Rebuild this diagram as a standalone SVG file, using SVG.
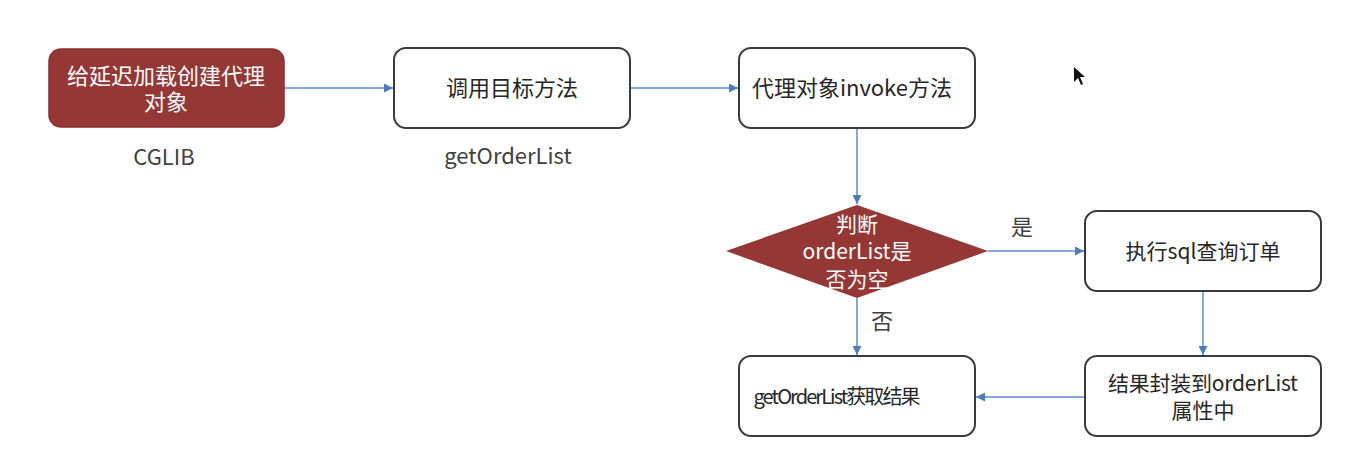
<svg xmlns="http://www.w3.org/2000/svg" width="1353" height="468" viewBox="0 0 1353 468">
<defs>
<style>
.box{fill:#ffffff;stroke:#3a3a3a;stroke-width:2}
.red{fill:#953735;stroke:#8a302e;stroke-width:1.5}
.t{font-family:"Microsoft YaHei","Noto Sans CJK SC","Noto Sans",sans-serif;font-size:21px;fill:#262626;text-anchor:middle}
.big{font-size:22px}
.w{fill:#ffffff}
.lbl{font-family:"Microsoft YaHei","Noto Sans CJK SC","Noto Sans",sans-serif;font-size:22px;fill:#404040;text-anchor:middle}
.c{stroke:#5b8bd0;stroke-width:1.5;fill:none;marker-end:url(#ah)}
</style>
<marker id="ah" viewBox="0 0 10 10" refX="10" refY="5" markerWidth="9" markerHeight="9" markerUnits="userSpaceOnUse" orient="auto">
<path d="M0,0 L10,5 L0,10 z" fill="#4a7ebb"/>
</marker>
</defs>
<rect width="1353" height="468" fill="#ffffff"/>
<g id="connectors">
<line class="c" x1="284" y1="88" x2="393" y2="88"/>
<line class="c" x1="630" y1="88" x2="738" y2="88"/>
<line class="c" x1="857" y1="128" x2="857" y2="204"/>
<line class="c" x1="988" y1="251" x2="1084" y2="251"/>
<line class="c" x1="857" y1="298" x2="857" y2="355"/>
<line class="c" x1="1203" y1="291" x2="1203" y2="355"/>
<line class="c" x1="1085" y1="397" x2="976" y2="397"/>
<text class="lbl" x="1022" y="235">是</text>
<text class="lbl" x="882" y="329">否</text>
</g>
<g id="n1">
<rect class="red" x="49" y="49" width="235" height="78" rx="12"/>
<text class="t big w" x="166" y="84" style="fill:#fff">给延迟加载创建代理</text>
<text class="t big w" x="166" y="110" style="fill:#fff">对象</text>
</g>
<g id="cglib"><text class="lbl" x="164" y="165">CGLIB</text></g>
<g id="n2">
<rect class="box" x="394" y="48" width="236" height="80" rx="12"/>
<text class="t big" x="512" y="96">调用目标方法</text>
</g>
<g id="getlabel"><text class="lbl" x="508" y="164">getOrderList</text></g>
<g id="n3">
<rect class="box" x="739" y="48" width="236" height="80" rx="12"/>
<text class="t big" x="852" y="96" textLength="200">代理对象invoke方法</text>
</g>
<g id="n4">
<polygon points="857,205 988,251 857,298 726,251" fill="#953735"/>
<text class="t" x="857" y="232" style="fill:#fff">判断</text>
<text class="t" x="857" y="259" style="fill:#fff">orderList是</text>
<text class="t" x="857" y="287" style="fill:#fff">否为空</text>
</g>
<g id="n5">
<rect class="box" x="1085" y="211" width="236" height="80" rx="12"/>
<text class="t" x="1203" y="259">执行sql查询订单</text>
</g>
<g id="n6">
<rect class="box" x="1085" y="356" width="236" height="80" rx="12"/>
<text class="t" x="1203" y="391" textLength="190">结果封装到orderList</text>
<text class="t" x="1203" y="418">属性中</text>
</g>
<g id="n7">
<rect class="box" x="739" y="356" width="236" height="80" rx="12"/>
<text class="t" x="837" y="404" textLength="167" style="font-size:20px">getOrderList获取结果</text>
</g>
<g id="cursor">
<path d="M1074,67 L1074,82 L1078,78 L1081,85 L1083,84 L1080,77 L1085,77 z" fill="#111"/>
</g>
</svg>
